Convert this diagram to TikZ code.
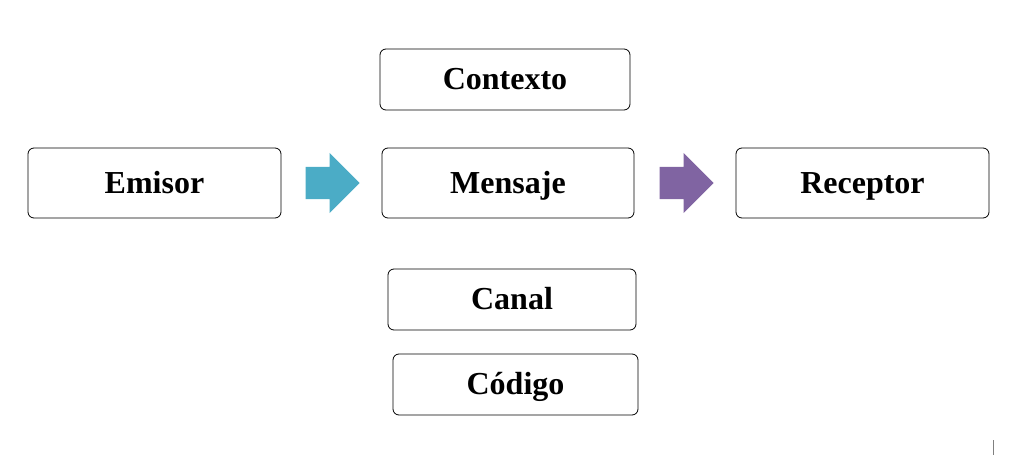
\documentclass[tikz,border=0pt]{standalone}
\usepackage{fontspec}
\setmainfont{Liberation Serif}
\usetikzlibrary{shapes.arrows}
\definecolor{flechaAzul}{HTML}{4BACC6}
\definecolor{flechaMorada}{HTML}{8064A2}
\tikzset{
  caja/.style={draw, thick, rounded corners=6pt, fill=white, text height=24pt, text depth=3pt, font=\fontsize{32}{36}\selectfont\bfseries},
  flecha/.style={single arrow, anchor=tip, minimum height=54pt, inner xsep=0pt, inner ysep=16pt, single arrow head extend=14pt, draw=none}
}
\begin{document}
\begin{tikzpicture}[x=1pt, y=-1pt]
	\useasboundingbox (0,0) rectangle (1021,457);

	\node [caja, minimum width=250pt, minimum height=61pt] (contexto) at (505,79.5) {Contexto};
	\node [caja, minimum width=253pt, minimum height=70pt] (emisor) at (154.5,183) {Emisor};
	\node [caja, minimum width=252pt, minimum height=70pt] (mensaje) at (508,183) {Mensaje};
	\node [caja, minimum width=253pt, minimum height=70pt] (receptor) at (862.5,183) {Receptor};
	\node [caja, minimum width=248pt, minimum height=61pt] (canal) at (512,299.5) {Canal};
	\node [caja, minimum width=245pt, minimum height=61pt] (codigo) at (515.5,384.5) {Código};

	\node [flecha, fill=flechaAzul] (flecha1) at (360,183) {};
	\node [flecha, fill=flechaMorada] (flecha2) at (714,183) {};

	\draw [thin, gray] (993,440) -- (993,455);
\end{tikzpicture}
\end{document}
